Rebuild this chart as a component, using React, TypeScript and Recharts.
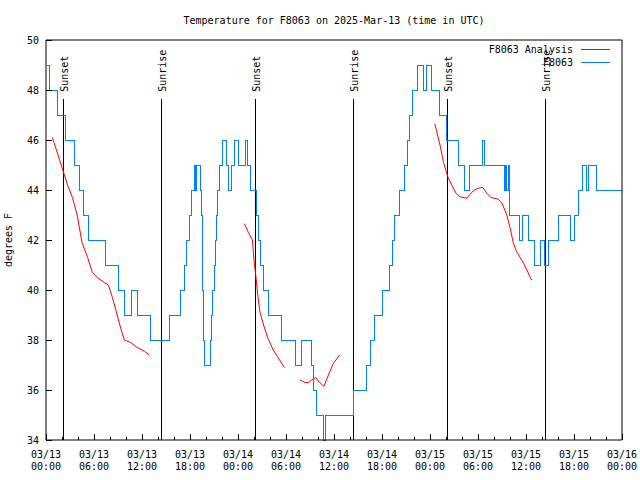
import React from 'react';
import { LineChart, Line, XAxis, YAxis, ReferenceLine } from 'recharts';

const FONT = '"DejaVu Sans Mono", "Liberation Mono", monospace';
const BLUE = '#0080ff';
const RED = '#ff0000';

const title = 'Temperature for F8063 on 2025-Mar-13 (time in UTC)';
const stationName = 'F8063';
const analysisName = 'F8063 Analysis';

// x is hours since 03/13 00:00 UTC
const majorTicks = [0, 6, 12, 18, 24, 30, 36, 42, 48, 54, 60, 66, 72];
const dateLabels = ['03/13', '03/13', '03/13', '03/13', '03/14', '03/14', '03/14', '03/14', '03/15', '03/15', '03/15', '03/15', '03/16'];
const timeLabels = ['00:00', '06:00', '12:00', '18:00', '00:00', '06:00', '12:00', '18:00', '00:00', '06:00', '12:00', '18:00', '00:00'];
const allTicks = [0, 2, 4, 6, 8, 10, 12, 14, 16, 18, 20, 22, 24, 26, 28, 30, 32, 34, 36, 38, 40, 42, 44, 46, 48, 50, 52, 54, 56, 58, 60, 62, 64, 66, 68, 70, 72];
const tempTicks = [34, 36, 38, 40, 42, 44, 46, 48, 50];

const sunsetHours = [2.15, 26.15, 50.15];
const sunriseHours = [14.4, 38.4, 62.4];

// station obs: value holds from each hour until the next one
const stationHours = [
  0.1, 0.45, 1.45, 2.45, 3.5, 4.2, 4.65, 5.25, 7.4, 9.0, 9.75, 10.7, 11.4, 13.0, 15.4,
  16.85, 17.3, 17.6, 17.9, 18.2, 18.5, 18.7, 18.85, 19.35, 19.45, 19.5, 19.55, 19.6, 19.65, 19.7, 19.8,
  20.5, 20.65, 20.8, 21.0, 21.15, 21.3, 21.45, 21.7, 22.0, 22.6, 22.85, 23.15, 23.55, 24.0, 24.9, 25.15,
  25.6, 26.3, 26.5, 26.85, 27.2, 27.75, 29.45, 31.2, 31.9, 33.2, 33.45, 33.75, 34.7, 34.95, 38.45,
  40.0, 40.5, 41.0, 42.0, 42.9, 43.25, 43.55, 44.15, 44.85, 45.15, 45.45, 45.75, 46.45, 47.2, 47.5,
  48.2, 49.2, 50.05, 51.5, 52.35, 52.9, 54.6, 54.8, 57.25, 57.45, 57.6, 57.75, 57.95, 59.15, 59.6,
  60.3, 61.1, 61.85, 62.35, 62.8, 64.1, 65.5, 66.0, 66.5, 67.1, 67.5, 67.85, 68.8, 72,
];
const stationTemps = [
  49, 48, 47, 46, 45, 44, 43, 42, 41, 40, 39, 40, 39, 38, 39,
  40, 41, 42, 43, 44, 45, 44, 45, 44, 43, 42, 41, 40, 39, 38, 37,
  38, 39, 40, 41, 42, 43, 44, 45, 46, 45, 44, 45, 46, 45, 46, 45,
  44, 43, 42, 41, 40, 39, 38, 37, 38, 37, 36, 35, 34, 35, 36,
  37, 38, 39, 40, 41, 42, 43, 44, 45, 46, 47, 48, 49, 48, 49,
  48, 47, 46, 45, 44, 45, 46, 45, 44, 45, 44, 45, 43, 42, 43,
  42, 41, 42, 41, 42, 43, 42, 43, 44, 45, 44, 45, 44, 44,
];

// analysis runs, null = gap between runs
const analysisHours = [
  0.8, 2.1, 2.7, 3.3, 3.9, 4.5, 5.2, 5.8, 6.4, 7.3, 7.8, 8.3, 8.9, 9.4, 9.8, 10.6, 11.4, 12.3, 12.9,
  18,
  24.8, 25.3, 25.8, 26.0, 26.25, 26.5, 26.75, 27.2, 27.7, 28.4, 29.0, 29.8,
  30.8,
  31.75, 32.4, 32.8, 33.2, 33.7, 34.2, 34.75, 35.3, 35.9, 36.7,
  42,
  48.6, 49.25, 49.7, 50.2, 50.7, 51.3, 51.75, 52.6, 53.4, 54.0, 54.6, 55.1, 55.6, 56.5, 57.0, 57.6,
  58.0, 58.4, 58.8, 59.7, 60.7,
];
const analysisTemps = [
  46.1, 44.8, 44.2, 43.7, 43.0, 41.9, 41.3, 40.7, 40.5, 40.3, 40.2, 39.7, 39.0, 38.4, 38.0, 37.9, 37.7, 37.55, 37.4,
  null,
  42.65, 42.3, 42.0, 41.2, 40.5, 39.7, 39.1, 38.6, 38.1, 37.6, 37.3, 36.9,
  null,
  36.4, 36.3, 36.3, 36.4, 36.5, 36.3, 36.15, 36.6, 37.05, 37.4,
  null,
  46.65, 45.8, 45.1, 44.55, 44.2, 43.85, 43.73, 43.67, 43.97, 44.07, 44.1, 43.87, 43.7, 43.64, 43.47, 43.0,
  42.5, 41.9, 41.55, 41.07, 40.4,
];

const stationData = stationHours.map((h, i) => ({ h, t: stationTemps[i] }));
const analysisData = analysisHours.map((h, i) => ({ h, t: analysisTemps[i] }));

// sun lines stop a bit below the top so the label fits above them
const SUN_LINE_TOP = 47.65;

function BottomTick({ x, y, payload }: any) {
  const i = majorTicks.indexOf(payload.value);
  const major = i >= 0;
  return (
    <g>
      <line x1={x} y1={y} x2={x} y2={y - (major ? 6 : 3)} stroke="#000" shapeRendering="crispEdges" />
      {major && (
        <text x={x} y={y + 17.5} textAnchor="middle" fontSize={10} fontFamily={FONT} fill="#000">
          <tspan x={x}>{dateLabels[i]}</tspan>
          <tspan x={x} dy={12.5}>{timeLabels[i]}</tspan>
        </text>
      )}
    </g>
  );
}

function TopTick({ x, y, payload }: any) {
  const major = majorTicks.includes(payload.value);
  return <line x1={x} y1={y} x2={x} y2={y + (major ? 6 : 3)} stroke="#000" shapeRendering="crispEdges" />;
}

function LeftTick({ x, y, payload }: any) {
  return (
    <g>
      <line x1={x} y1={y} x2={x + 6} y2={y} stroke="#000" shapeRendering="crispEdges" />
      <text x={x - 7} y={y + 3.5} textAnchor="end" fontSize={10} fontFamily={FONT} fill="#000">
        {payload.value}
      </text>
    </g>
  );
}

function RightTick({ x, y }: any) {
  return <line x1={x} y1={y} x2={x - 6} y2={y} stroke="#000" shapeRendering="crispEdges" />;
}

function SunLabel({ viewBox, caption }: any) {
  const x = viewBox.x + 5;
  const y = viewBox.y - 7;
  return (
    <text x={x} y={y} transform={`rotate(-90 ${x} ${y})`} fontSize={10} fontFamily={FONT} fill="#000">
      {caption}
    </text>
  );
}

function YTitle({ viewBox }: any) {
  const x = viewBox.x + 12;
  const y = viewBox.y + viewBox.height / 2;
  return (
    <text x={x} y={y} transform={`rotate(-90 ${x} ${y})`} textAnchor="middle" fontSize={10} fontFamily={FONT} fill="#000">
      degrees F
    </text>
  );
}

function LegendBox() {
  const rows = [
    { name: analysisName, color: RED },
    { name: stationName, color: BLUE },
  ];
  return (
    <div
      style={{
        position: 'absolute', top: 43, left: 0, width: 610,
        fontFamily: FONT, fontSize: 10, lineHeight: '13px', color: '#000',
      }}
    >
      {rows.map((r) => (
        <div key={r.name} style={{ display: 'flex', justifyContent: 'flex-end', alignItems: 'center' }}>
          <span>{r.name}</span>
          <span style={{ display: 'inline-block', width: 29, borderTop: `1px solid ${r.color}`, marginLeft: 8 }} />
        </div>
      ))}
    </div>
  );
}

export default function App() {
  return (
    <div style={{ position: 'absolute', left: 0, top: 0, width: 640, height: 480, background: '#fff' }}>
      <div
        style={{
          position: 'absolute', left: 0, top: 14.5, width: 668, textAlign: 'center',
          fontFamily: FONT, fontSize: 10, lineHeight: '12px', color: '#000',
        }}
      >
        {title}
      </div>
      <LineChart width={640} height={480} margin={{ top: 10, right: 0, left: 0, bottom: 0 }}>
        <XAxis
          dataKey="h" type="number" domain={[0, 72]} ticks={allTicks} interval={0}
          height={40} tickSize={0} tickMargin={0} tickLine={false} stroke="#000"
          tick={<BottomTick />}
        />
        <XAxis
          xAxisId="top" orientation="top" dataKey="h" type="number" domain={[0, 72]} ticks={allTicks} interval={0}
          height={30} tickSize={0} tickMargin={0} tickLine={false} stroke="#000"
          tick={<TopTick />}
        />
        <YAxis
          type="number" domain={[34, 50]} ticks={tempTicks} interval={0}
          width={46} tickSize={0} tickMargin={0} tickLine={false} stroke="#000"
          tick={<LeftTick />} label={<YTitle />}
        />
        <YAxis
          yAxisId="right" orientation="right" type="number" domain={[34, 50]} ticks={tempTicks} interval={0}
          width={18} tickSize={0} tickMargin={0} tickLine={false} stroke="#000"
          tick={<RightTick />}
        />
        {sunsetHours.map((h) => (
          <ReferenceLine
            key={'ss' + h}
            segment={[{ x: h, y: 34 }, { x: h, y: SUN_LINE_TOP }]}
            stroke="#000"
            shapeRendering="crispEdges"
            label={<SunLabel caption="Sunset" />}
          />
        ))}
        {sunriseHours.map((h) => (
          <ReferenceLine
            key={'sr' + h}
            segment={[{ x: h, y: 34 }, { x: h, y: SUN_LINE_TOP }]}
            stroke="#000"
            shapeRendering="crispEdges"
            label={<SunLabel caption="Sunrise" />}
          />
        ))}
        <Line
          data={analysisData} dataKey="t" name={analysisName} type="linear" stroke={RED} strokeWidth={1}
          dot={false} activeDot={false} isAnimationActive={false}
        />
        <Line
          data={stationData} dataKey="t" name={stationName} type="stepAfter" stroke={BLUE} strokeWidth={1}
          shapeRendering="crispEdges"
          dot={false} activeDot={false} isAnimationActive={false}
        />
      </LineChart>
      <LegendBox />
    </div>
  );
}
